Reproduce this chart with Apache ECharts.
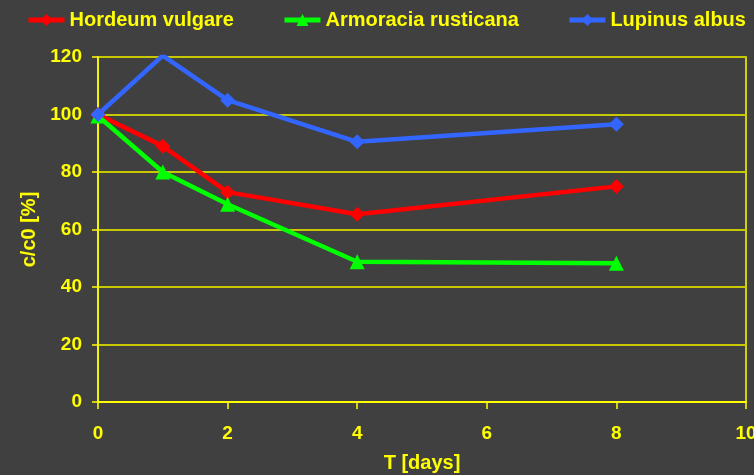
<!DOCTYPE html>
<html>
<head>
<meta charset="utf-8">
<script src="https://cdn.jsdelivr.net/npm/echarts@6/dist/echarts.min.js"></script>
<style>
  html, body { margin: 0; padding: 0; background: #404040; }
  #chart { width: 754px; height: 475px; }
</style>
</head>
<body>
<div id="chart"></div>
<script>
// Time points in days
const days = [0, 1, 2, 4, 8];
// Relative concentration c/c0 in percent
const hordeum = [100, 89, 73, 65.3, 75];
const armoracia = [99.5, 80, 68.8, 48.8, 48.3];
const lupinus = [100, 120.5, 105, 90.5, 96.6];

const xTicks = [0, 2, 4, 6, 8, 10];
const yTicks = [0, 20, 40, 60, 80, 100, 120];

const YELLOW = '#ffff00';
const GRID_YELLOW = '#c8c800';
const FONT = 'Liberation Sans, Arial, sans-serif';

const pairs = (ys) => days.map((d, i) => [d, ys[i]]);

const chart = echarts.init(document.getElementById('chart'));
chart.setOption({
  backgroundColor: '#404040',
  animation: false,
  textStyle: { fontFamily: FONT, fontWeight: 'bold', color: YELLOW },
  legend: {
    left: 26, top: 10, padding: 0, width: 728,
    itemWidth: 36, itemHeight: 15, itemGap: 48,
    lineStyle: { width: 5 },
    textStyle: { color: YELLOW, fontSize: 20, fontWeight: 'bold', fontFamily: FONT },
    data: ['Hordeum vulgare', 'Armoracia rusticana', 'Lupinus albus']
  },
  grid: {
    left: 98, right: 8, top: 57, bottom: 73,
    outerBoundsMode: 'none', containLabel: false,
    show: true, borderColor: YELLOW, borderWidth: 1.5
  },
  xAxis: {
    type: 'value', min: xTicks[0], max: xTicks[xTicks.length - 1], interval: 2,
    name: 'T [days]', nameLocation: 'middle', nameGap: 51,
    nameTextStyle: { color: YELLOW, fontSize: 20, fontWeight: 'bold', fontFamily: FONT },
    axisLine: { lineStyle: { color: YELLOW, width: 2 } },
    axisTick: { show: true, length: 7, lineStyle: { color: YELLOW, width: 1.5 } },
    axisLabel: { color: YELLOW, fontSize: 19, fontWeight: 'bold', margin: 22 },
    splitLine: { show: false }
  },
  yAxis: {
    type: 'value', min: yTicks[0], max: yTicks[yTicks.length - 1], interval: 20,
    name: 'c/c0 [%]', nameLocation: 'middle', nameGap: 57, nameRotate: 90,
    nameTextStyle: { color: YELLOW, fontSize: 20, fontWeight: 'bold', fontFamily: FONT },
    axisLine: { show: true, lineStyle: { color: YELLOW, width: 1.5 } },
    axisTick: { show: true, length: 6, lineStyle: { color: YELLOW, width: 1.5 } },
    axisLabel: { color: YELLOW, fontSize: 19, fontWeight: 'bold', margin: 16 },
    splitLine: { show: true, lineStyle: { color: GRID_YELLOW, width: 2 } }
  },
  series: [
    {
      name: 'Hordeum vulgare', type: 'line', data: pairs(hordeum),
      symbol: 'diamond', symbolSize: 15,
      lineStyle: { color: '#ff0000', width: 4.5 }, itemStyle: { color: '#ff0000' }
    },
    {
      name: 'Armoracia rusticana', type: 'line', data: pairs(armoracia),
      symbol: 'triangle', symbolSize: 15,
      lineStyle: { color: '#00ff00', width: 4.5 }, itemStyle: { color: '#00ff00' }
    },
    {
      name: 'Lupinus albus', type: 'line', data: pairs(lupinus),
      symbol: 'diamond', symbolSize: 15,
      lineStyle: { color: '#3366ff', width: 4.5 }, itemStyle: { color: '#3366ff' }
    }
  ]
});
</script>
</body>
</html>
